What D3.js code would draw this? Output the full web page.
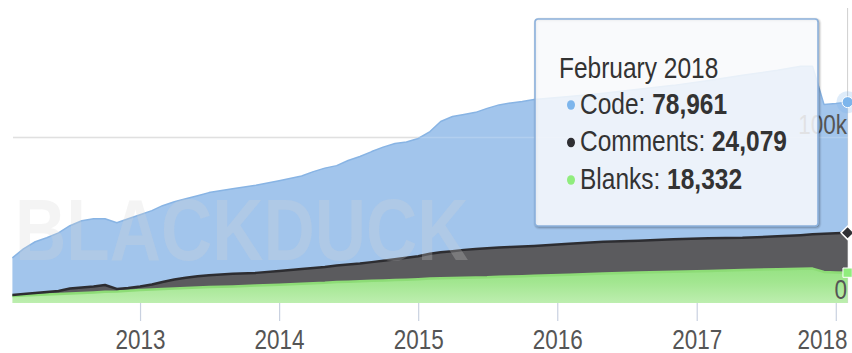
<!DOCTYPE html>
<html>
<head>
<meta charset="utf-8">
<script src="https://cdn.jsdelivr.net/npm/d3@7"></script>
<style>
  html, body { margin: 0; padding: 0; background: #fff; }
  svg { display: block; }
  text { font-family: "Liberation Sans", Arial, Helvetica, sans-serif; }
</style>
</head>
<body>
<svg id="chart" width="852" height="353"></svg>
<script>
// Monthly line counts of the project
const months = [
  "2012-02","2012-03","2012-04","2012-05","2012-06","2012-07","2012-08","2012-09","2012-10","2012-11","2012-12",
  "2013-01","2013-02","2013-03","2013-04","2013-05","2013-06","2013-07","2013-09","2013-11",
  "2014-01","2014-03","2014-04","2014-05","2014-06","2014-07","2014-08","2014-09","2014-10","2014-11","2014-12",
  "2015-01","2015-02","2015-03","2015-04","2015-05","2015-06","2015-07","2015-08","2015-09","2015-10","2015-11",
  "2016-02","2016-05","2016-08","2016-11",
  "2017-02","2017-05","2017-08","2017-10","2017-11","2017-12",
  "2018-01","2018-02"
];
const code = [
  22500,27300,30900,32700,35100,37900,40300,40900,40000,40000,41800,
  43300,44600,46100,47000,47800,48700,50000,51500,53000,
  54500,56100,58200,59700,60300,62800,64600,66800,68700,70000,70000,
  71200,73900,79100,81400,81800,82600,84500,86100,87000,87600,88500,
  89000,89700,91500,93000,
  95400,98200,100300,102000,101500,78200,
  78400,78961
];
const comments = [
  600,900,1300,1500,1800,3000,3300,3600,4100,1500,1700,
  2100,3000,4200,5400,6100,6700,7100,7600,7700,
  8300,9000,9300,9600,10000,10400,10800,11300,11900,12500,13200,
  13800,14900,15600,16200,16800,17200,17600,17800,17900,18000,18100,
  18700,19100,19200,19600,
  19700,19500,19900,20300,20700,23000,
  23700,24079
];
const blanks = [
  4200,4500,4800,5200,5500,5800,6100,6400,6800,7000,7400,
  7900,8200,8500,8800,9100,9400,9600,10000,10500,
  11100,11600,11900,12200,12700,12900,13100,13400,13600,13900,14100,
  14400,14800,15000,15100,15300,15400,15500,15800,16000,16200,16400,
  17100,17900,18400,18900,
  19400,19900,20400,20700,20800,18800,
  18500,18332
];
const yearTicks = ["2013","2014","2015","2016","2017","2018"];
const valueTicks = [0, 100000];
const seriesNames = ["Code", "Comments", "Blanks"];
const watermark = "BLACKDUCK";

const parseMonth = d3.timeParse("%Y-%m");
const rows = months.map((m, i) => ({
  date: parseMonth(m), code: code[i], comments: comments[i], blanks: blanks[i]
}));

const svg = d3.select("#chart");
const baseY = 303;
const rightEdge = 847;
const x = d3.scaleTime()
  .domain([rows[0].date, rows[rows.length - 1].date])
  .range([12.4, 847.6]);
const y = d3.scaleLinear().domain([0, 100000]).range([baseY, 137.5]);
const stretch = 1.22;

const defs = svg.append("defs");
const gg = defs.append("linearGradient").attr("id", "greenFill")
  .attr("gradientUnits", "userSpaceOnUse")
  .attr("x1", 0).attr("y1", 268).attr("x2", 0).attr("y2", baseY);
gg.append("stop").attr("offset", 0).attr("stop-color", "#96e283");
gg.append("stop").attr("offset", 0.4).attr("stop-color", "#a2e690");
gg.append("stop").attr("offset", 1).attr("stop-color", "#bdeeaf");

// Grid line at 100k
svg.append("line")
  .attr("x1", 13).attr("x2", 848)
  .attr("y1", y(100000)).attr("y2", y(100000))
  .attr("stroke", "#d9d9d9").attr("stroke-width", 1.5);

// Hover crosshair
const last = rows[rows.length - 1];
svg.append("line")
  .attr("x1", x(last.date)).attr("x2", x(last.date))
  .attr("y1", 8).attr("y2", baseY)
  .attr("stroke", "#cfcfcf").attr("stroke-width", 1);

// Stacked areas: blanks at the bottom, comments, code on top
const stack = d3.stack().keys(["blanks", "comments", "code"]);
const layers = stack(rows);
const styles = {
  blanks:   { fill: "url(#greenFill)", line: "#8ddc76", lw: 2.5 },
  comments: { fill: "#5b5b5e", line: "#2d2d31", lw: 2.5 },
  code:     { fill: "#a2c5ec", line: "#88b4e4", lw: 1.5 }
};
const area = d3.area()
  .x(d => x(d.data.date)).y0(d => y(d[0])).y1(d => y(d[1]));
const topLine = d3.line()
  .x(d => x(d.data.date)).y(d => y(d[1]));

layers.slice().reverse().forEach(L => {
  svg.append("path").attr("d", area(L)).attr("fill", styles[L.key].fill);
});
layers.forEach(L => {
  svg.append("path").attr("d", topLine(L))
    .attr("fill", "none")
    .attr("stroke", styles[L.key].line)
    .attr("stroke-width", styles[L.key].lw)
    .attr("stroke-linejoin", "round");
});

// Faint grid line showing through the areas
svg.append("line")
  .attr("x1", 13).attr("x2", 848)
  .attr("y1", y(100000)).attr("y2", y(100000))
  .attr("stroke", "#ffffff").attr("stroke-opacity", 0.18).attr("stroke-width", 1.5);

// Watermark
svg.append("text")
  .attr("transform", `translate(15,260) scale(1,${stretch})`)
  .attr("font-size", 71).attr("font-weight", "bold")
  .attr("fill", "#d4d4d4").attr("fill-opacity", 0.26)
  .text(watermark);

// Hover markers on the last point
const lx = x(last.date);
const lastLayer = k => layers.find(L => L.key === k)[rows.length - 1][1];
svg.append("circle").attr("cx", lx).attr("cy", y(lastLayer("code"))).attr("r", 11)
  .attr("fill", "#7cb5ec").attr("fill-opacity", 0.25);
svg.append("circle").attr("cx", lx).attr("cy", y(lastLayer("code"))).attr("r", 5.5)
  .attr("fill", "#7cb5ec").attr("stroke", "#fff").attr("stroke-width", 1);
svg.append("path")
  .attr("d", d3.symbol(d3.symbolDiamond2, 110)())
  .attr("transform", `translate(${lx},${y(lastLayer("comments"))})`)
  .attr("fill", "#303034").attr("stroke", "#fff").attr("stroke-width", 1.5);
svg.append("path")
  .attr("d", d3.symbol(d3.symbolSquare2, 110)())
  .attr("transform", `translate(${lx},${y(lastLayer("blanks"))})`)
  .attr("fill", "#90ed7d").attr("stroke", "#fff").attr("stroke-width", 1);

// X axis
const xAxis = d3.axisBottom(x)
  .tickValues(yearTicks.map(t => d3.timeParse("%Y")(t)))
  .tickFormat(d3.timeFormat("%Y"))
  .tickSize(18).tickSizeOuter(0);
const gx = svg.append("g").attr("transform", `translate(0,${baseY})`).call(xAxis);
gx.select(".domain").remove();
gx.selectAll(".tick line").attr("stroke", "#c9d1e0").attr("stroke-width", 1.2);
gx.selectAll(".tick text")
  .attr("y", null).attr("dy", null)
  .attr("transform", `translate(0,45.5) scale(1,${stretch})`)
  .attr("font-size", 22.5).attr("fill", "#555")
  .attr("font-family", "'Liberation Sans', Arial, sans-serif");
// keep the last year label inside the chart's right edge
gx.selectAll(".tick text").filter((d, i, n) => i === n.length - 1)
  .attr("text-anchor", "end")
  .attr("x", d => rightEdge - x(d));

// Y axis labels, inside the plot on the right
const yAxis = d3.axisLeft(y)
  .tickValues(valueTicks)
  .tickFormat(d => d === 0 ? "0" : d3.format("~s")(d))
  .tickSize(0);
const gy = svg.append("g").attr("transform", `translate(${rightEdge},0)`).call(yAxis);
gy.select(".domain").remove();
gy.selectAll(".tick text")
  .attr("x", 0).attr("dy", null)
  .attr("transform", `translate(0,-4.5) scale(1,${stretch})`)
  .attr("font-size", 22.5).attr("fill", "#555")
  .attr("font-family", "'Liberation Sans', Arial, sans-serif");

// Tooltip for the hovered month
const tip = svg.append("g").attr("transform", "translate(535,19)");
const tw = 283, th = 207;
[[5, 0.05], [3, 0.1], [1, 0.15]].forEach(([w, o]) => {
  tip.append("rect").attr("x", 1).attr("y", 1).attr("width", tw).attr("height", th)
    .attr("rx", 3).attr("fill", "none")
    .attr("stroke", "#000").attr("stroke-opacity", o).attr("stroke-width", w);
});
tip.append("rect").attr("width", tw).attr("height", th).attr("rx", 3)
  .attr("fill", "rgba(248,249,251,0.86)")
  .attr("stroke", "#8cb1dc").attr("stroke-width", 1.6);

const fmt = d3.format(",");
tip.append("text")
  .attr("transform", `translate(24,58.5) scale(1,${stretch})`)
  .attr("font-size", 24.5).attr("fill", "#333")
  .text(d3.timeFormat("%B %Y")(last.date));

const tipRows = [
  { name: seriesNames[0], value: last.code, color: "#7cb5ec" },
  { name: seriesNames[1], value: last.comments, color: "#2f2f33" },
  { name: seriesNames[2], value: last.blanks, color: "#90ed7d" }
];
tipRows.forEach((r, i) => {
  const by = 94.5 + i * 37.5;
  tip.append("ellipse").attr("cx", 36).attr("cy", by - 8.5)
    .attr("rx", 4).attr("ry", 4.8).attr("fill", r.color);
  const t = tip.append("text")
    .attr("transform", `translate(45,${by}) scale(1,${stretch})`)
    .attr("font-size", 24.5).attr("fill", "#333");
  t.append("tspan").text(r.name + ": ");
  t.append("tspan").attr("font-weight", "bold").text(fmt(r.value));
});
</script>
</body>
</html>
